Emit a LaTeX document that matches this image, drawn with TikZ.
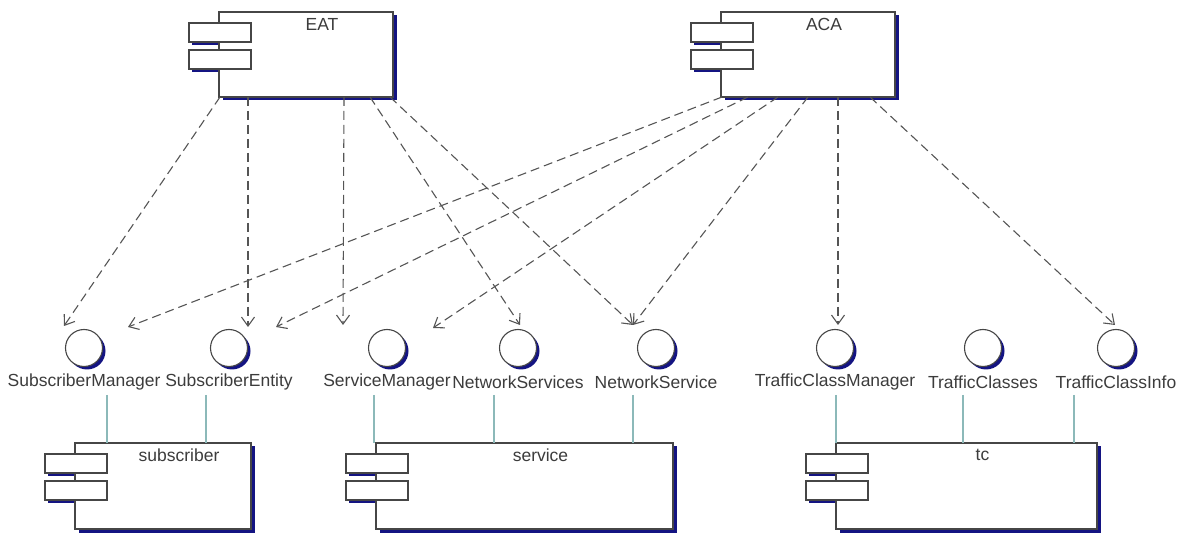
\documentclass[tikz,border=0pt]{standalone}
\usepackage{fontspec}
\setmainfont{Liberation Sans}
\usetikzlibrary{arrows.meta,calc}

\definecolor{shadowblue}{RGB}{20,20,130}
\definecolor{edgegray}{RGB}{70,70,70}
\definecolor{depgray}{RGB}{85,85,85}
\definecolor{lollicol}{RGB}{140,185,185}
\definecolor{txtgray}{RGB}{60,60,60}

\tikzset{
  compbox/.style={draw=edgegray, fill=white, line width=1.1pt, inner sep=0pt, outer sep=0pt},
  tabbox/.style={draw=edgegray, fill=white, line width=1.1pt},
  complabel/.style={text=txtgray, font=\fontsize{17.5}{20}\selectfont, inner sep=0pt},
  iface/.style={circle, draw=edgegray, fill=white, line width=1.1pt, minimum size=37pt, inner sep=0pt, outer sep=0pt},
  ilabel/.style={text=txtgray, font=\fontsize{17.5}{20}\selectfont, inner sep=0pt},
  dep/.style={draw=depgray, line width=1.1pt, dash pattern=on 9pt off 5pt,
              -{Straight Barb[length=9pt,width=13pt,line width=1.1pt]}},
  lolli/.style={draw=lollicol, line width=1.6pt}
}

% component: name, left, top, right, bottom, label
\newcommand\umlcomp[6]{%
  \fill[shadowblue] (#2-27,#3+14) rectangle (#2+3,#3+33);
  \fill[shadowblue] (#2-27,#3+41) rectangle (#2+3,#3+60);
  \fill[shadowblue] (#2+3.5,#3+3.5) rectangle (#4+3.5,#5+3.5);
  \node[compbox, minimum width={#4-#2}, minimum height={#5-#3}, anchor=north west] (#1) at (#2,#3) {};
  \draw[tabbox] (#2-30,#3+11) rectangle (#2+32,#3+30);
  \draw[tabbox] (#2-30,#3+38) rectangle (#2+32,#3+57);
  \node[complabel] (#1-label) at ({(#2+32+#4)/2},#3+12) {#6};
}

% provided interface: name, x of centre, label, x offset of its realisation line
\newcommand\umliface[4]{%
  \fill[shadowblue] (#2+3,351) circle (18.5);
  \node[iface] (#1) at (#2,348) {};
  \node[ilabel] (#1-label) at (#2,382) {#3};
  \coordinate (#1-foot) at (#2+#4,395);
}

\begin{document}
\begin{tikzpicture}[x=1pt, y=-1pt]
\useasboundingbox (0,0) rectangle (1184,534);

% clients
\umlcomp{EAT}{219}{12}{393}{97}{EAT}
\umlcomp{ACA}{721}{12}{895}{97}{ACA}

% providers
\umlcomp{subscriber}{75}{443}{251}{529}{subscriber}
\umlcomp{service}{376}{443}{673}{529}{service}
\umlcomp{tc}{836}{443}{1097}{529}{tc}

% interfaces
\umliface{SM}{84}{SubscriberManager}{23}
\umliface{SE}{229}{SubscriberEntity}{-23}
\umliface{SvM}{387}{ServiceManager}{-13}
\umliface{NSs}{518}{NetworkServices}{-24}
\umliface{NS}{656}{NetworkService}{-23}
\umliface{TCM}{835}{TrafficClassManager}{1}
\umliface{TCs}{983}{TrafficClasses}{-20}
\umliface{TCI}{1116}{TrafficClassInfo}{-42}

% realisations
\draw[lolli] (SM-foot)  -- (SM-foot |- subscriber.north);
\draw[lolli] (SE-foot)  -- (SE-foot |- subscriber.north);
\draw[lolli] (SvM-foot) -- (SvM-foot |- service.north);
\draw[lolli] (NSs-foot) -- (NSs-foot |- service.north);
\draw[lolli] (NS-foot)  -- (NS-foot |- service.north);
\draw[lolli] (TCM-foot) -- (TCM-foot |- tc.north);
\draw[lolli] (TCs-foot) -- (TCs-foot |- tc.north);
\draw[lolli] (TCI-foot) -- (TCI-foot |- tc.north);

% dependencies of EAT
\draw[dep] ($(EAT.south west)+(1,0)$)   -- ($(SM)+(-20,-22)$);
\draw[dep] ($(EAT.south west)+(29,0)$)  -- ($(SE)+(19,-21)$);
\draw[dep] ($(EAT.south west)+(125,0)$) -- ($(SvM)+(-44,-23)$);
\draw[dep] ($(EAT.south west)+(151,0)$) -- ($(NSs)+(2,-23)$);
\draw[dep] ($(EAT.south west)+(171,0)$) -- ($(NS)+(-23,-23)$);

% dependencies of ACA
\draw[dep] ($(ACA.south west)+(1,0)$)   -- ($(SM)+(44,-21)$);
\draw[dep] ($(ACA.south west)+(27,0)$)  -- ($(SE)+(47,-21)$);
\draw[dep] ($(ACA.south west)+(57,0)$)  -- ($(SvM)+(46,-20)$);
\draw[dep] ($(ACA.south west)+(87,0)$)  -- ($(NS)+(-23,-23)$);
\draw[dep] ($(ACA.south west)+(117,0)$) -- ($(TCM)+(3,-23)$);
\draw[dep] ($(ACA.south west)+(149,0)$) -- ($(TCI)+(-1,-23)$);
\end{tikzpicture}
\end{document}
